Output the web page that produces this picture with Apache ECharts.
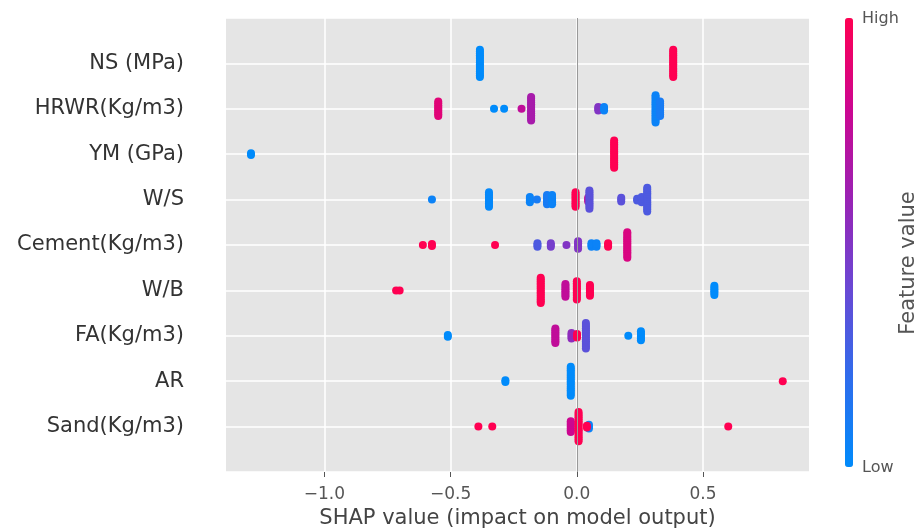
<!DOCTYPE html>
<html>
<head>
<meta charset="utf-8">
<script src="https://cdn.jsdelivr.net/npm/echarts@6/dist/echarts.min.js"></script>
<style>html,body{margin:0;padding:0;background:#fff;}#chart{width:919px;height:529px;}</style>
</head>
<body>
<div id="chart"></div>
<script>
// Features, top to bottom
const features = ['NS (MPa)', 'HRWR(Kg/m3)', 'YM (GPa)', 'W/S', 'Cement(Kg/m3)', 'W/B', 'FA(Kg/m3)', 'AR', 'Sand(Kg/m3)'];
// Clusters per feature: [SHAP value, number of stacked samples, normalised feature value 0(low)..1(high)]
const nsClusters = [[-0.384, 16, 0], [0.382, 16, 1]];
const hrwrClusters = [[-0.549, 9, 0.88], [-0.328, 1, 0], [-0.288, 1, 0], [-0.219, 1, 0.75], [-0.181, 14, 0.65], [0.085, 3, 0.5], [0.108, 3, 0.05], [0.312, 16, 0.05], [0.330, 9, 0.1]];
const ymClusters = [[-1.291, 2, 0], [0.148, 16, 1]];
const wsClusters = [[-0.574, 1, 0.05], [-0.348, 9, 0.02], [-0.186, 4, 0.05], [-0.158, 1, 0.1], [-0.118, 6, 0.1], [-0.098, 6, 0.05], [-0.005, 9, 1], [0.045, 3, 0.75], [0.050, 11, 0.35], [0.176, 3, 0.35], [0.239, 2, 0.3], [0.257, 4, 0.3], [0.279, 14, 0.3]];
const cementClusters = [[-0.610, 1, 1], [-0.574, 2, 1], [-0.324, 1, 1], [-0.156, 3, 0.3], [-0.103, 3, 0.45], [-0.041, 1, 0.5], [0.005, 5, 0.5], [0.058, 3, 0.05], [0.078, 3, 0.05], [0.124, 3, 1], [0.200, 15, 0.85]];
const wbClusters = [[-0.716, 1, 1], [-0.702, 1, 1], [-0.143, 15, 1], [-0.045, 8, 0.75], [0.000, 11, 1], [0.052, 7, 1], [0.545, 6, 0]];
const faClusters = [[-0.511, 2, 0], [-0.085, 9, 0.75], [-0.021, 4, 0.55], [0.001, 3, 1], [0.036, 15, 0.35], [0.204, 1, 0], [0.254, 6, 0]];
const arClusters = [[-0.283, 2, 0], [-0.024, 17, 0], [0.816, 1, 1]];
const sandClusters = [[-0.390, 1, 1], [-0.335, 1, 1], [-0.024, 7, 0.8], [0.007, 17, 1], [0.048, 3, 0.05], [0.040, 2, 1], [0.600, 1, 1]];
// x-axis tick labels
const xTicks = [-1.0, -0.5, 0.0, 0.5];

const clustersByFeature = [nsClusters, hrwrClusters, ymClusters, wsClusters, cementClusters, wbClusters, faClusters, arClusters, sandClusters];

// beeswarm layout: stack samples vertically around the feature row
const swarmStep = 0.04;
const points = [];
clustersByFeature.forEach((clusters, fi) => {
  const row = features.length - 1 - fi;
  clusters.forEach(([shap, n, fv]) => {
    for (let i = 0; i < n; i++) {
      points.push([shap, row + (i - (n - 1) / 2) * swarmStep, fv]);
    }
  });
});

const FONT = 'DejaVu Sans';
const chart = echarts.init(document.getElementById('chart'), null, { renderer: 'canvas' });
chart.setOption({
  animation: false,
  backgroundColor: '#ffffff',
  textStyle: { fontFamily: FONT },
  grid: { left: 226, right: 110, top: 18, bottom: 57, show: true, backgroundColor: '#e5e5e5', borderWidth: 0,
    containLabel: false, outerBoundsMode: 'none' },
  xAxis: {
    type: 'value', min: -1.39, max: 0.92,
    axisLine: { show: false, onZero: false },
    axisTick: { show: true, customValues: xTicks, length: 5, lineStyle: { color: '#555', width: 1 } },
    axisLabel: { customValues: xTicks, color: '#555', fontSize: 17, fontFamily: FONT, margin: 14,
      formatter: v => v.toFixed(1).replace('-', '\u2212') },
    splitLine: { show: true, lineStyle: { color: '#ffffff', width: 1.5 } },
    name: 'SHAP value (impact on model output)', nameLocation: 'middle', nameGap: 36,
    nameTextStyle: { color: '#444', fontSize: 21, fontFamily: FONT }
  },
  yAxis: {
    type: 'value', min: -1, max: 9, interval: 1,
    axisLine: { show: false, onZero: false }, axisTick: { show: false },
    axisLabel: { color: '#333', fontSize: 21, fontFamily: FONT, margin: 42,
      formatter: v => (v >= 0 && v < features.length) ? features[features.length - 1 - v] : '' },
    splitLine: { show: true, lineStyle: { color: '#ffffff', width: 1.5 } }
  },
  visualMap: {
    type: 'continuous', min: 0, max: 1, dimension: 2, seriesIndex: 0,
    left: 845, top: 18, itemWidth: 8, itemHeight: 449, padding: 0,
    calculable: false, text: null, showLabel: false, hoverLink: false,
    inRange: { color: ['#008bfb', '#2f6cec', '#6a48d4', '#9a22b4', '#cc0690', '#ff0052'] }
  },
  series: [{
    type: 'scatter', data: points, symbolSize: 8, itemStyle: { opacity: 1 },
    markLine: { silent: true, symbol: ['none', 'none'], label: { show: false },
      lineStyle: { color: '#999', width: 1, type: 'solid' }, data: [{ xAxis: 0 }] }
  }],
  graphic: [
    { type: 'text', x: 862, y: 19, style: { text: 'High', fill: '#555', fontSize: 16, fontFamily: FONT, verticalAlign: 'middle' } },
    { type: 'text', x: 862, y: 468, style: { text: 'Low', fill: '#555', fontSize: 16, fontFamily: FONT, verticalAlign: 'middle' } },
    { type: 'text', x: 909, y: 263, rotation: Math.PI / 2, style: { text: 'Feature value', fill: '#555', fontSize: 21, fontFamily: FONT, align: 'center', verticalAlign: 'middle' } }
  ]
});
</script>
</body>
</html>
